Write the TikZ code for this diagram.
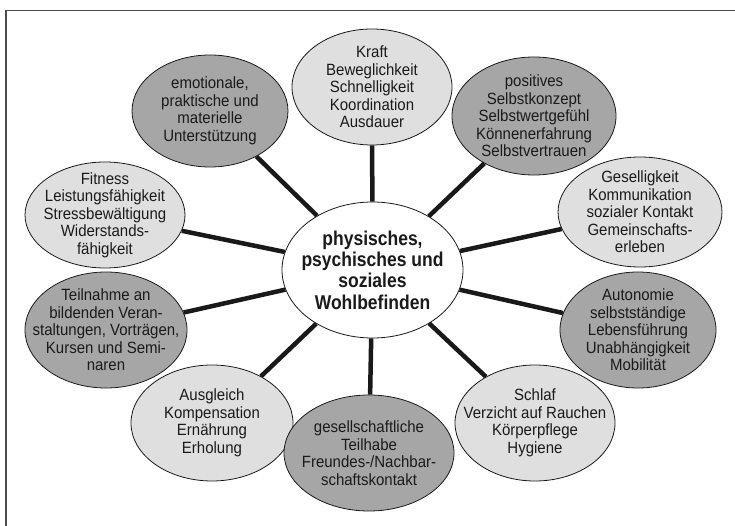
\documentclass[tikz,border=0pt]{standalone}
\usepackage{fontspec}
\setmainfont{Liberation Sans}[FakeStretch=0.92]
\newfontfamily\centerfont{Liberation Sans}[FakeStretch=0.875]
\usetikzlibrary{shapes.geometric,backgrounds}
\definecolor{lightfill}{HTML}{DFDFDF}
\definecolor{darkfill}{HTML}{A6A6A6}
\definecolor{ink}{HTML}{1A1A1A}
\begin{document}
\begin{tikzpicture}[x=1pt,y=-1pt,
  bub/.style={ellipse, draw=ink, line width=0.8pt, inner sep=0pt},
  light/.style={bub, fill=lightfill},
  dark/.style={bub, fill=darkfill},
  txt/.style={align=center, font=\fontsize{16.3}{17.5}\selectfont, text=ink, inner sep=0pt},
  ctxt/.style={align=center, font=\centerfont\bfseries\fontsize{20}{21.3}\selectfont, text=ink, inner sep=0pt},
  conn/.style={line width=4.5pt, draw=black!90}
]
\useasboundingbox (0,0) rectangle (735,526);
\draw[line width=1.6pt, draw=black!70] (6,526) -- (6,10.5) -- (735,10.5);

\node[bub, fill=white, minimum width=181, minimum height=136] (c) at (372.5,270) {};
\node[light, minimum width=160, minimum height=116] (kraft) at (372,87) {};
\node[dark, minimum width=156, minimum height=112] (emot) at (210,111) {};
\node[dark, minimum width=164, minimum height=118] (pos) at (534,116) {};
\node[light, minimum width=160, minimum height=106] (fit) at (105,215) {};
\node[light, minimum width=164, minimum height=110] (gesel) at (640,212) {};
\node[dark, minimum width=162, minimum height=116] (teil) at (106,330) {};
\node[dark, minimum width=156, minimum height=116] (auto) at (638,330) {};
\node[light, minimum width=162, minimum height=116] (ausg) at (212,423) {};
\node[dark, minimum width=170, minimum height=116] (teilh) at (369,453) {};
\node[light, minimum width=160, minimum height=116] (schlaf) at (535,423) {};

\begin{scope}[on background layer]
  \foreach \n in {kraft,emot,pos,fit,gesel,teil,auto,ausg,teilh,schlaf}
    \draw[conn] (c) -- (\n);
\end{scope}

\node[ctxt] (tc) at (c) {physisches,\\psychisches und\\soziales\\Wohlbefinden};
\node[txt] (tkraft) at (kraft) {Kraft\\Beweglichkeit\\Schnelligkeit\\Koordination\\Ausdauer};
\node[txt] (temot) at (emot) {emotionale,\\praktische und\\materielle\\Unterstützung};
\node[txt] (tpos) at (pos) {positives\\Selbstkonzept\\Selbstwertgefühl\\Könnenerfahrung\\Selbstvertrauen};
\node[txt] (tfit) at (fit) {Fitness\\Leistungsfähigkeit\\Stressbewältigung\\Widerstands-\\fähigkeit};
\node[txt] (tgesel) at (gesel) {Geselligkeit\\Kommunikation\\sozialer Kontakt\\Gemeinschafts-\\erleben};
\node[txt] (tteil) at (teil) {Teilnahme an\\bildenden Veran-\\staltungen, Vorträgen,\\Kursen und Semi-\\naren};
\node[txt] (tauto) at (auto) {Autonomie\\selbstständige\\Lebensführung\\Unabhängigkeit\\Mobilität};
\node[txt] (tausg) at (ausg) {Ausgleich\\Kompensation\\Ernährung\\Erholung};
\node[txt] (tteilh) at (teilh) {gesellschaftliche\\Teilhabe\\Freundes-/Nachbar-\\schaftskontakt};
\node[txt] (tschlaf) at (schlaf) {Schlaf\\Verzicht auf Rauchen\\Körperpflege\\Hygiene};
\end{tikzpicture}
\end{document}
